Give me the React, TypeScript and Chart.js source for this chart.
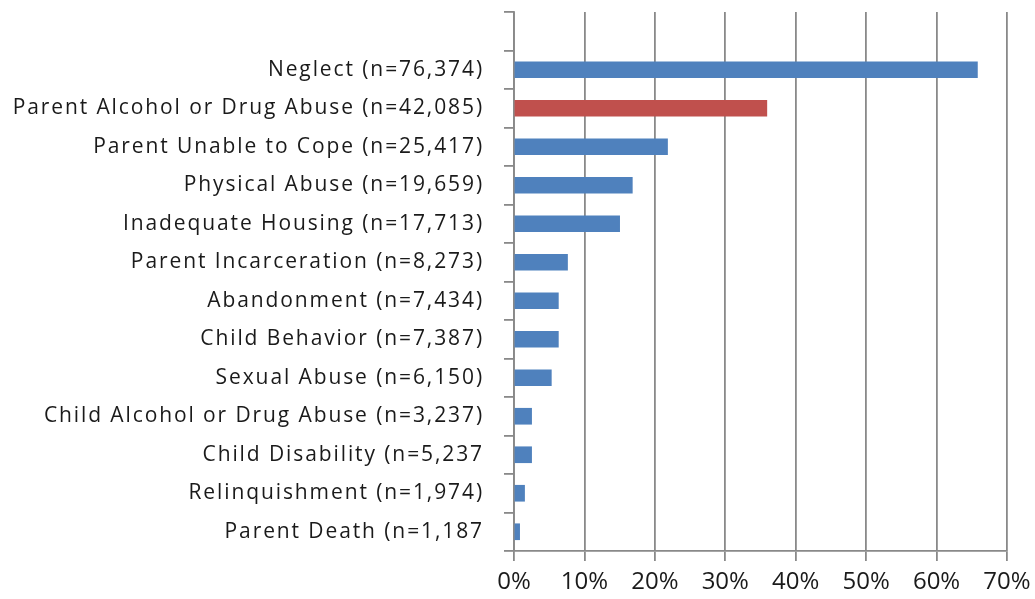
import React, { useEffect, useRef } from "react";
import { Chart, registerables } from "chart.js";

Chart.register(...registerables);

const categories: string[] = [
  "",
  "Neglect (n=76,374)",
  "Parent Alcohol or Drug Abuse (n=42,085)",
  "Parent Unable to Cope (n=25,417)",
  "Physical Abuse (n=19,659)",
  "Inadequate Housing (n=17,713)",
  "Parent Incarceration (n=8,273)",
  "Abandonment (n=7,434)",
  "Child Behavior (n=7,387)",
  "Sexual Abuse (n=6,150)",
  "Child Alcohol or Drug Abuse (n=3,237)",
  "Child Disability (n=5,237",
  "Relinquishment (n=1,974)",
  "Parent Death (n=1,187",
];

const percentages: (number | null)[] = [
  null, 65.8, 35.9, 21.8, 16.8, 15.0, 7.6, 6.3, 6.3, 5.3, 2.5, 2.5, 1.5, 0.8,
];

const highlighted: boolean[] = [
  false, false, true, false, false, false, false, false, false, false, false, false, false, false,
];

const xTicks: number[] = [0, 10, 20, 30, 40, 50, 60, 70];

const BLUE = "#4F81BD";
const RED = "#C0504D";
const FONT = "'Open Sans'";

const spacedYLabels = {
  id: "spacedYLabels",
  beforeDraw(chart: any) {
    const ys = chart.scales.y;
    if (!ys || ys.__spaced) return;
    const orig = ys.drawLabels.bind(ys);
    ys.drawLabels = (area: any) => {
      const c = chart.ctx;
      c.save();
      c.letterSpacing = "1.9px";
      orig(area);
      c.restore();
    };
    ys.__spaced = true;
  },
};

export default function App() {
  const ref = useRef<HTMLCanvasElement | null>(null);

  useEffect(() => {
    document.body.style.margin = "0";
    const ctx = ref.current;
    if (!ctx) return;
    const chart = new Chart(ctx, {
      type: "bar",
      data: {
        labels: categories,
        datasets: [
          {
            data: percentages,
            backgroundColor: highlighted.map((h) => (h ? RED : BLUE)),
            borderWidth: 0,
            barThickness: 16,
          },
        ],
      },
      options: {
        indexAxis: "y",
        animation: false,
        responsive: false,
        maintainAspectRatio: false,
        layout: { padding: { top: 12, right: 28, bottom: 0, left: 0 } },
        plugins: { legend: { display: false }, tooltip: { enabled: false } },
        scales: {
          x: {
            min: 0,
            max: 70,
            afterBuildTicks: (axis: any) => {
              axis.ticks = xTicks.map((v) => ({ value: v }));
            },
            afterFit: (axis: any) => {
              axis.height = 48;
              axis.paddingLeft = 0;
              axis.paddingRight = 0;
            },
            ticks: {
              callback: (v: any) => `${v}%`,
              color: "#1a1a1a",
              font: { family: FONT, size: 24 },
              padding: 7,
              maxRotation: 0,
            },
            grid: {
              color: "#898989",
              lineWidth: 1.8,
              tickLength: 10,
              drawTicks: true,
            },
            border: { color: "#898989", width: 1.8 },
          },
          y: {
            afterFit: (axis: any) => {
              axis.width = 514;
              axis.paddingTop = 0;
              axis.paddingBottom = 0;
            },
            ticks: {
              color: "#1a1a1a",
              font: { family: FONT, size: 21 },
              padding: 20,
              autoSkip: false,
            },
            grid: {
              offset: true,
              drawOnChartArea: false,
              drawTicks: true,
              tickLength: 10,
              color: "#898989",
              lineWidth: 1.8,
            },
            border: { color: "#898989", width: 1.8 },
          },
        },
      },
      plugins: [spacedYLabels],
    });
    chart.draw();
    return () => chart.destroy();
  }, []);

  return (
    <div style={{ width: 1035, height: 599 }}>
      <canvas ref={ref} width={1035} height={599} style={{ display: "block" }} />
    </div>
  );
}
